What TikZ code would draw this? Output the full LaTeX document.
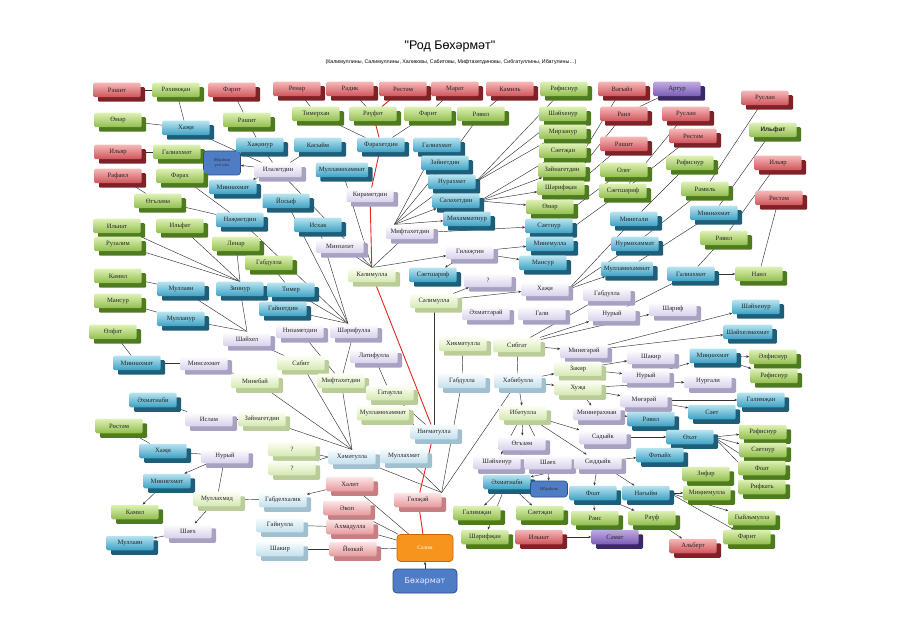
\documentclass[tikz,border=0pt]{standalone}
\usepackage{fontspec}
\setmainfont{Liberation Serif}
\newfontfamily\sansf{Liberation Sans}
\newfontfamily\djv{DejaVu Sans}
\usetikzlibrary{arrows.meta,shadows,backgrounds}
\definecolor{grT}{HTML}{DDF1B4}\definecolor{grB}{HTML}{92BE4E}\definecolor{grS}{HTML}{4E7A20}
\definecolor{rdT}{HTML}{F6B8B8}\definecolor{rdB}{HTML}{CF535A}\definecolor{rdS}{HTML}{7E2228}
\definecolor{blT}{HTML}{B8E4F0}\definecolor{blB}{HTML}{3CA1C5}\definecolor{blS}{HTML}{1E5E78}
\definecolor{lvT}{HTML}{FFFFFF}\definecolor{lvB}{HTML}{D8D0EA}\definecolor{lvS}{HTML}{A9A1C2}
\definecolor{pgT}{HTML}{FCFFF4}\definecolor{pgB}{HTML}{D5E8B2}\definecolor{pgS}{HTML}{BACD98}
\definecolor{pbT}{HTML}{F8FCFE}\definecolor{pbB}{HTML}{C3DFEC}\definecolor{pbS}{HTML}{A0C0D0}
\definecolor{pkT}{HTML}{FCE6E6}\definecolor{pkB}{HTML}{E6999D}\definecolor{pkS}{HTML}{C68084}
\definecolor{puT}{HTML}{BFAAE2}\definecolor{puB}{HTML}{7A5DB5}\definecolor{puS}{HTML}{3A2868}
\definecolor{dkF}{HTML}{4E7DC6}\definecolor{dkD}{HTML}{2B4D86}
\definecolor{orF}{HTML}{F7941E}\definecolor{orD}{HTML}{C2690C}
\definecolor{lineC}{HTML}{333333}\definecolor{redC}{HTML}{E3261E}
\tikzset{
 box/.style={rounded corners=1.2pt, minimum width=47pt, minimum height=14.5pt, inner xsep=3pt, inner ysep=0pt, font=\fontsize{6.6}{7}\selectfont, text=black!85},
 gr/.style={box, top color=grT, bottom color=grB, general shadow={fill=grS, shadow xshift=4.5pt, shadow yshift=-4.5pt}},
 rd/.style={box, top color=rdT, bottom color=rdB, general shadow={fill=rdS, shadow xshift=4.5pt, shadow yshift=-4.5pt}},
 bl/.style={box, top color=blT, bottom color=blB, general shadow={fill=blS, shadow xshift=4.5pt, shadow yshift=-4.5pt}},
 lv/.style={box, top color=lvT, bottom color=lvB, general shadow={fill=lvS, shadow xshift=4.5pt, shadow yshift=-4.5pt}},
 pg/.style={box, top color=pgT, bottom color=pgB, general shadow={fill=pgS, shadow xshift=4.5pt, shadow yshift=-4.5pt}},
 pb/.style={box, top color=pbT, bottom color=pbB, general shadow={fill=pbS, shadow xshift=4.5pt, shadow yshift=-4.5pt}},
 pk/.style={box, top color=pkT, bottom color=pkB, general shadow={fill=pkS, shadow xshift=4.5pt, shadow yshift=-4.5pt}},
 pu/.style={box, top color=puT, bottom color=puB, general shadow={fill=puS, shadow xshift=4.5pt, shadow yshift=-4.5pt}},
 dk/.style={rounded corners=3pt, fill=dkF, draw=dkD, line width=0.6pt, minimum width=37pt, minimum height=24pt, align=center, font=\fontsize{4.4}{5}\selectfont, text=black!80, inner sep=1pt},
 dktwo/.style={dk, minimum height=16pt, font=\fontsize{4.6}{5}\selectfont},
 dkthree/.style={rounded corners=4pt, fill=dkF, draw=dkD, line width=0.8pt, minimum width=64pt, minimum height=24pt, font=\djv\fontsize{8}{9}\selectfont, text=blue!8},
 orbox/.style={rounded corners=3.5pt, fill=orF, draw=orD, line width=0.7pt, minimum width=56pt, minimum height=27pt, font=\fontsize{5.5}{6}\selectfont, text=white},
 conn/.style={draw=lineC, line width=0.45pt, -{Stealth[length=3pt,width=2.4pt]}},
 rconn/.style={draw=redC, line width=0.9pt, -{Stealth[length=3.5pt,width=3pt]}},
}
\begin{document}
\begin{tikzpicture}[x=1pt,y=-1pt]
\useasboundingbox (0,0) rectangle (900,636);
\node[font=\sansf\fontsize{12.5}{14}\selectfont] (title) at (450,47) {"Род Бөхәрмәт"};
\node[font=\sansf\fontsize{5.3}{6}\selectfont] (sub) at (451,62) {(Калимуллины, Салимуллины, Халиковы, Сабитовы, Мифтахетдиновы, Сибгатуллины, Ибатулины…)};
% row 1
\node[rd] (r1) at (117,90) {Рәшит};
\node[gr] (g1) at (176,90) {Рәхимҗан};
\node[rd] (r2) at (232,90) {Фәрит};
\node[rd] (r3) at (297,89) {Ренар};
\node[rd] (r4) at (350,89) {Радик};
\node[rd] (r5) at (403,89) {Рөстәм};
\node[rd] (r6) at (455,89) {Марат};
\node[rd] (r7) at (510,89) {Камиль};
\node[gr] (g2) at (564,89) {Рәфиснур};
\node[rd] (r8) at (622,89) {Вагыйз};
\node[pu] (p1) at (677,89) {Артур};
\node[rd] (r9) at (765,98) {Руслан};
\node[gr] (g3) at (118,120) {Өмәр};
\node[bl] (b1) at (186,128) {Хаҗи};
\node[gr] (g4) at (247,120) {Рәшит};
\node[gr] (g5) at (316,114) {Тимерхан};
\node[gr] (g6) at (373,114) {Рәүфәт};
\node[gr] (g7) at (428,114) {Фәрит};
\node[gr] (g8) at (481,114) {Рәвил};
\node[gr] (g9) at (563,114) {Шәйхенур};
\node[rd] (r10) at (624,114) {Раил};
\node[rd] (r11) at (686,114) {Руслан};
\node[gr] (g48) at (563,132) {Мирзанур};
\node[gr,font=\sansf\bfseries\fontsize{6.4}{7}\selectfont] (g49) at (773,130) {Ильфат};
\node[rd] (r19) at (693,136) {Рөстәм};
\node[rd] (r18) at (624,144) {Рәшит};
\node[rd] (r12) at (118,152) {Ильяр};
\node[gr] (g10) at (177,152) {Галиәхмәт};
\node[dk] (d1) at (222,163) {Ибраһим\\үги улы};
\node[bl] (b2) at (260,145) {Хаҗинур};
\node[bl] (b3) at (318,145) {Касыйм};
\node[bl] (b4) at (381,145) {Фәрахетдин};
\node[bl] (b5) at (437,145) {Галиәхмәт};
\node[gr] (g11) at (563,151) {Сәетҗан};
\node[bl] (b6) at (445,163) {Зәйнетдин};
\node[gr] (g12) at (690,163) {Рәфиснур};
\node[rd] (r13) at (778,163) {Ильяр};
\node[rd] (r14) at (118,176) {Рафаил};
\node[gr] (g13) at (180,176) {Фәрах};
\node[lv] (l1) at (278,170) {Илалетдин};
\node[bl] (b7) at (342,170) {Мулламөхәммәт};
\node[gr] (g14) at (562,170) {Зәйнагетдин};
\node[gr] (g15) at (624,170) {Олег};
\node[bl] (b8) at (233,187) {Миннәхмәт};
\node[bl] (b9) at (452,182) {Нурахмәт};
\node[gr] (g16) at (561,188) {Шәрифҗан};
\node[gr] (g17) at (705,189) {Рамиль};
\node[gr] (g18) at (623,191) {Сәетшәриф};
\node[lv] (l2) at (370,195) {Кираметдин};
\node[rd] (r15) at (779,198) {Рөстәм};
\node[gr] (g19) at (158,201) {Өгъләмә};
\node[bl] (b10) at (286,201) {Йосыф};
\node[bl] (b11) at (456,201) {Сәләхетдин};
\node[gr] (g20) at (550,207) {Өмәр};
\node[bl] (b12) at (714,213) {Миннәхмәт};
\node[bl] (b13) at (634,219) {Минегали};
\node[bl] (b14) at (240,220) {Нәҗметдин};
\node[bl] (b15) at (467,219) {Мөхәммәтнур};
\node[bl] (b16) at (318,225) {Исхак};
\node[gr] (g21) at (117,226) {Ильнат};
\node[gr] (g22) at (180,226) {Ильфат};
\node[lv] (l3) at (410,232) {Мифтахетдин};
\node[bl] (b17) at (549,226) {Сәетнур};
\node[gr] (g23) at (724,238) {Рәвил};
\node[gr] (g24) at (118,244) {Рузалим};
\node[gr] (g25) at (236,244) {Ленар};
\node[lv] (l4) at (340,246) {Минзәләт};
\node[bl] (b18) at (550,244) {Минемулла};
\node[bl] (b19) at (635,244) {Нурмөхәммәт};
\node[lv] (l5) at (470,252) {Гиләҗтин};
\node[gr] (g26) at (269,263) {Габдулла};
\node[bl] (b20) at (543,263) {Мансур};
\node[bl] (b21) at (627,269) {Мулламөхәммәт};
\node[bl] (b22) at (691,274) {Галиәхмәт};
\node[gr] (g27) at (759,274) {Наил};
\node[pg] (lg1) at (372,275) {Кәлимулла};
\node[bl] (b23) at (433,275) {Сәетшәриф};
\node[lv] (l6) at (488,280) {?};
\node[gr] (g28) at (118,276) {Камил};
\node[bl] (b24) at (181,289) {Муллаян};
\node[bl] (b25) at (240,289) {Зиннур};
\node[bl] (b26) at (291,290) {Тимер};
\node[lv] (l7) at (545,289) {Хаҗи};
\node[lv] (l8) at (607,294) {Габдулла};
\node[gr] (g29) at (118,301) {Мансур};
\node[pg] (lg2) at (434,301) {Сәлимулла};
\node[bl] (b27) at (283,309) {Гайнетдин};
\node[lv] (l9) at (673,309) {Шәриф};
\node[bl] (b28) at (756,307) {Шәйхенур};
\node[lv] (l10) at (612,314) {Нурый};
\node[lv] (l11) at (486,313) {Әхмәтгәрәй};
\node[lv] (l12) at (542,313) {Гали};
\node[bl] (b29) at (181,319) {Мулланур};
\node[gr] (g30) at (113,332) {Өлфәт};
\node[lv] (l13) at (300,331) {Низаметдин};
\node[lv] (l14) at (354,331) {Шәрифулла};
\node[bl] (b30) at (748,332) {Шәйхелмәхмәт};
\node[lv] (l15) at (247,339) {Шәйхел};
\node[pg] (lg3) at (463,344) {Хикмәтулла};
\node[pg] (lg4) at (517,345) {Сибгат};
\node[lv] (l16) at (584,351) {Минегәрәй};
\node[lv] (l17) at (374,356) {Латифулла};
\node[lv] (l18) at (651,357) {Шакир};
\node[bl] (b31) at (713,356) {Миңнәхмәт};
\node[gr] (g31) at (773,357) {Әлфиснур};
\node[bl] (b32) at (137,363) {Миннәхмәт};
\node[lv] (l19) at (204,363) {Минсәхмәт};
\node[pg] (lg5) at (301,363) {Сабит};
\node[pg] (lg6) at (578,369) {Закир};
\node[lv] (l20) at (646,376) {Нурый};
\node[gr] (g32) at (774,376) {Рәфиснур};
\node[lv] (l21) at (708,381) {Нургали};
\node[pg] (lg7) at (255,381) {Минебай};
\node[pg] (lg8) at (341,381) {Мифтахетдин};
\node[pb] (lb1) at (462,381) {Габдулла};
\node[pb] (lb2) at (518,381) {Хәбибулла};
\node[pg] (lg9) at (578,388) {Хуҗа};
\node[pg] (lg10) at (390,393) {Гатаулла};
\node[bl] (b33) at (153,400) {Әхмәтнаби};
\node[lv] (l22) at (644,400) {Мөгәрәй};
\node[bl] (b34) at (761,400) {Галимҗан};
\node[lv] (l23) at (209,419) {Ислам};
\node[pg] (lg11) at (262,419) {Зәйнагетдин};
\node[pg] (lg12) at (383,413) {Мулламөхәммәт};
\node[pg] (lg13) at (523,413) {Ибәтулла};
\node[lv] (l24) at (597,413) {Миннерахман};
\node[bl] (b35) at (651,419) {Рәвил};
\node[bl] (b36) at (712,412) {Сәет};
\node[gr] (g33) at (119,426) {Рөстәм};
\node[pb] (lb3) at (434,432) {Ниғмәтулла};
\node[gr] (g34) at (763,432) {Рәфиснур};
\node[lv] (l25) at (522,443) {Өгъзәм};
\node[lv] (l26) at (603,437) {Садыйк};
\node[bl] (b37) at (690,437) {Өхәт};
\node[bl] (b38) at (163,451) {Хаҗи};
\node[lv] (l27) at (225,456) {Нурый};
\node[pg] (lg14) at (292,449) {?};
\node[pb] (lb4) at (352,457) {Хәмәтулла};
\node[pb] (lb5) at (404,456) {Муллахмәт};
\node[gr] (g35) at (763,450) {Сәетнур};
\node[lv] (l28) at (497,462) {Шәйхенур};
\node[lv] (l29) at (548,462) {Шәех};
\node[lv] (l30) at (598,462) {Сиддыйк};
\node[bl] (b39) at (660,455) {Фәтыйх};
\node[pg] (lg15) at (292,468) {?};
\node[gr] (g36) at (706,474) {Зөфәр};
\node[gr] (g37) at (762,468) {Фоат};
\node[bl] (b40) at (167,481) {Миннехмәт};
\node[bl] (b41) at (507,482) {Әхмәтнаби};
\node[dktwo] (d2) at (549,489) {Ибраһим};
\node[pk] (pk1) at (350,484) {Халит};
\node[gr] (g38) at (762,487) {Рифкать};
\node[pg] (lg16) at (217,499) {Муллахмәд};
\node[pb] (lb6) at (283,500) {Габделхалик};
\node[pk] (pk2) at (418,500) {Гөлҗәй};
\node[bl] (b42) at (593,493) {Фоат};
\node[bl] (b43) at (646,493) {Нагыйм};
\node[gr] (g39) at (707,493) {Миңнемулла};
\node[pk] (pk3) at (347,508) {Әкоп};
\node[gr] (g40) at (135,512) {Камил};
\node[gr] (g41) at (477,513) {Галимҗан};
\node[gr] (g42) at (540,513) {Сәетҗан};
\node[gr] (g43) at (595,518) {Рәис};
\node[gr] (g44) at (652,518) {Рәүф};
\node[gr] (g45) at (752,518) {Гыйльмулла};
\node[pb] (lb7) at (280,525) {Гайнулла};
\node[pk] (pk4) at (350,527) {Ахмадулла};
\node[lv] (l31) at (188,531) {Шәех};
\node[gr] (g46) at (485,537) {Шәрифҗан};
\node[rd] (r16) at (539,537) {Ильнат};
\node[pu] (p2) at (615,537) {Сәмат};
\node[gr] (g47) at (747,537) {Фәрит};
\node[bl] (b44) at (130,543) {Муллаян};
\node[orbox] (o1) at (425,548) {Сәлим};
\node[pb] (lb8) at (280,549) {Шакир};
\node[pk] (pk5) at (353,549) {Йөзкәй};
\node[rd] (r17) at (693,546) {Альберт};
\node[dkthree] (d3) at (425,581) {Бөхәрмәт};
\begin{scope}[on background layer]
\foreach \a/\b in {d3/o1, o1/pk1, o1/pk3, o1/pk4, o1/pk5,
 pk1/lb6, pk4/lb7, pk5/lb8, lb6/lg16, lg16/l27, lg16/l31, l27/b38, l27/b40, b38/g33, b40/g40, l31/b44,
 lg11/l23, l23/b33, lg7/l19, l19/b32, b32/g30,
 lg5/l15, b24/g28, b29/g29,
 lg8/l13, lg8/l14, b26/g26, b14/g13, b14/g19, g19/r14,
 lb3/lg10, lb3/lg12, lb3/lg2, lg10/l17,
 b4/g5, b4/g7, g5/r3, g6/r4, g7/r6, g8/r7, b6/g8,
 l5/b18, l5/b20, l5/b23, lg2/l6, lg2/l7, lg2/l11,
 g16/r8, g20/r10, g20/r18, b17/g15, b18/g18,
 r10/p1, g18/r11, g18/r19, b13/g12, b19/g17, b21/b12, g17/r9, b12/g49, g23/r13, b22/g23, b22/g27, g27/r15, l10/b22,
 lg4/l8, lg4/l10, lg4/l9, lg4/l16, l16/b28, l16/b30,
 lb2/lg6, lb2/lg9, lb2/lg13, lb2/lg4, lb1/lg3,
 lg6/l18, lg6/l20, l20/b31, b31/g31, b31/g32,
 lg9/l21, lg9/l22, lg9/l24, l22/b34, l22/b36, l24/b35,
 lg13/l25, lg13/l28, lg13/l29, lg13/l30, lg13/l26, l26/b37,
 l30/b39, l30/b42, l30/b43, l30/b41, l29/d2, b39/g36,
 b42/g43, b42/g44, g44/r17, r16/p2,
 b41/g41, b41/g42, b41/g46,
 l1/d1, l1/b8, l1/b1, l1/b2, l1/b3, d1/g10, g10/r12, b1/g1, b1/g3, g1/r1, b2/g4, g4/r2}
 \draw[conn] (\a) -- (\b);
\foreach \b in {lb4, lb5, lb1, lb2} \draw[conn] (pk2.north east) -- (\b);
\foreach \b in {lg5, lg8, lg7, lg11} \draw[conn] (lb4.north) -- (\b);
\foreach \b in {lg14, lg15} \draw[conn] (lb4.west) -- (\b);
\foreach \b in {b25, b24, b29} \draw[conn] (l15.north) -- (\b);
\foreach \b in {g21, g24, g22, g25} \draw[conn] (b25.north) -- (\b);
\foreach \b in {b14, b10, b16, b26, b27} \draw[conn] ([xshift=-6pt]l14.north) -- (\b);
\foreach \b in {l4, l3, l5, l1, b7} \draw[conn] (lg1.north) -- (\b);
\foreach \b in {b5, b6, b9, b11, b15} \draw[conn] ([xshift=8pt]l3.north west) -- (\b);
\draw[conn] (l3.east) -- (b17);
\foreach \b in {g2, g9, g48} \draw[conn] (b9.east) -- (\b);
\foreach \b in {g11, g14, g16, g20} \draw[conn] (b11.east) -- (\b);
\foreach \b in {b13, b19, b21} \draw[conn] (l7.east) -- (\b);
\foreach \b in {g34, g35, g37, g38} \draw[conn] (b37.east) -- (\b);
\foreach \b in {g39, g45, g47} \draw[conn] (b43.east) -- (\b);
\foreach \a/\b in {o1/pk2, pk2/lb3, lb3/lg1, lg1/l2, l2/b4, b4/g6, g6/r5}
 \draw[rconn] (\a) -- (\b);
\end{scope}
\end{tikzpicture}
\end{document}
